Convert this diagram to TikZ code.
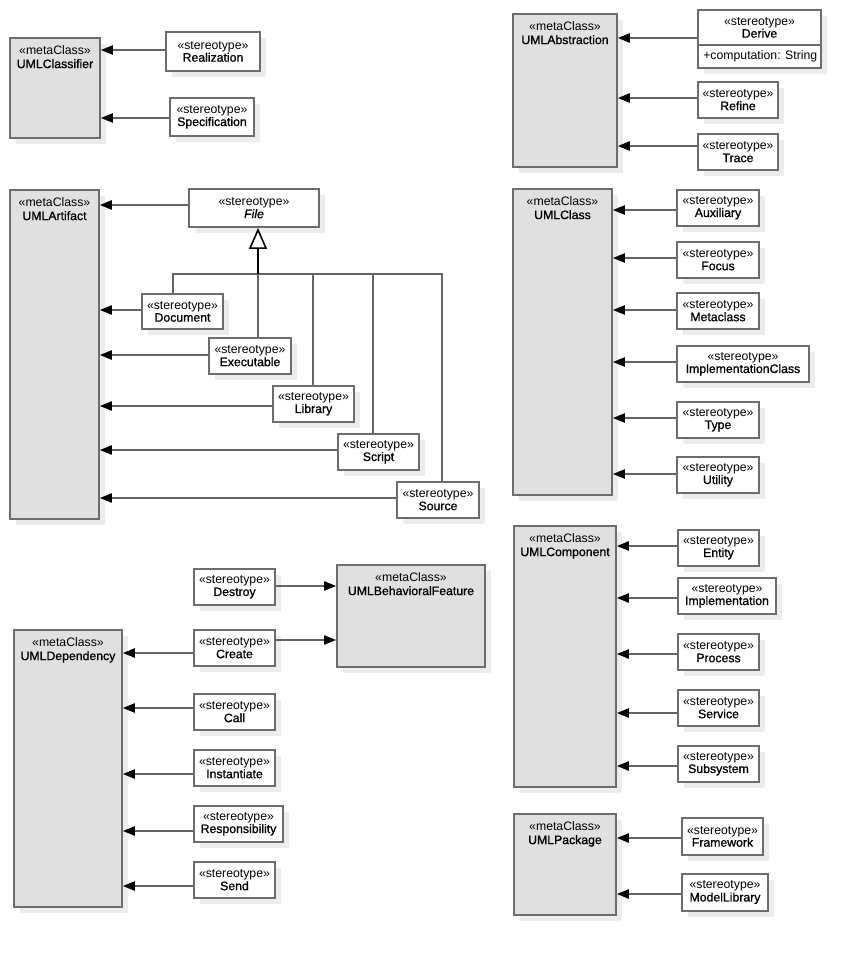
\documentclass[tikz,border=0pt]{standalone}
\usepackage{fontspec}
\setmainfont{Liberation Sans}
\newfontfamily\namefont[FakeBold=1]{Liberation Sans}
\usetikzlibrary{arrows.meta,fit,shadows}

\definecolor{metafill}{RGB}{224,224,224}
\definecolor{boxline}{RGB}{108,108,108}
\definecolor{wire}{RGB}{100,100,100}
\definecolor{shade}{RGB}{236,236,236}

% metaclass box: name, x1, y1, x2, y2, class name
\newcommand\metaclass[6]{%
  \node[metabox, fit={(#2,#3) (#4,#5)}] (#1) {};
  \node[anchor=north, align=center, font=\fontsize{9.2}{10}\selectfont]
    (#1-label) at ([yshift=-6.4pt]#1.north)
    {«metaClass»\\{\namefont #6}};}
% stereotype box: name, x1, y1, x2, y2, stereotype name
\newcommand\stereotype[6]{%
  \node[stbox, fit={(#2,#3) (#4,#5)}] (#1) {};
  \node[align=center] (#1-label) at (#1.center) {«stereotype»\\{\namefont #6}};}
% extension arrow pointing left: from, to, y
\newcommand\extleft[3]{\draw[dep] (#1.west |- 0,#3) -- (#2.east |- 0,#3);}
% extension arrow pointing right: from, to, y
\newcommand\extright[3]{\draw[dep] (#1.east |- 0,#3) -- (#2.west |- 0,#3);}

\begin{document}
\begin{tikzpicture}[x=0.75pt,y=-0.75pt,
  every node/.style={font=\fontsize{9.2}{9.4}\selectfont, inner sep=0pt},
  umlbox/.style={draw=boxline, line width=1.4pt,
    drop shadow={shadow xshift=4.5pt, shadow yshift=-4.5pt, fill=shade, opacity=1}},
  metabox/.style={umlbox, fill=metafill},
  stbox/.style={umlbox, fill=white},
  dep/.style={draw=wire, line width=1.2pt,
    -{Triangle[length=9pt, width=7pt, color=black]}},
  gen/.style={draw=wire, line width=1.2pt},
  genhead/.style={draw=black, line width=1.2pt,
    -{Triangle[open, length=15.75pt, width=13.5pt, fill=white]}}
]
\fill[white] (0,0) rectangle (850,955);
\useasboundingbox (0,0) rectangle (850,955);

% ---- metaclasses ----
\metaclass{classifier}{10}{38}{100}{138}{UMLClassifier}
\metaclass{abstraction}{513}{14}{617}{167}{UMLAbstraction}
\metaclass{artifact}{10}{190}{99}{519}{UMLArtifact}
\metaclass{umlclass}{513}{189}{612}{495}{UMLClass}
\metaclass{component}{514}{526}{616}{787}{UMLComponent}
\metaclass{behav}{337}{565}{485}{667}{UMLBehavioralFeature}
\metaclass{dependency}{14}{630}{122}{907}{UMLDependency}
\metaclass{package}{514}{814}{616}{915}{UMLPackage}

% ---- UMLClassifier ----
\stereotype{realization}{166}{32}{260}{71}{Realization}
\stereotype{specification}{170}{98}{254}{136}{Specification}
\extleft{realization}{classifier}{50}
\extleft{specification}{classifier}{118}

% ---- UMLAbstraction ----
\node[umlbox, fill=white, fit={(698,10) (821,68)}] (derive) {};
\node[align=center] (derive-name) at (759.5,27.5) {«stereotype»\\{\namefont Derive}};
\draw[draw=boxline, line width=1.4pt] (derive.west |- 0,45) -- (derive.east |- 0,45);
\node[anchor=west] (derive-attr) at (703,56) {+computation: String};
\stereotype{refine}{698}{82}{778}{118}{Refine}
\stereotype{trace}{698}{134}{778}{170}{Trace}
\extleft{derive}{abstraction}{38}
\extleft{refine}{abstraction}{98}
\extleft{trace}{abstraction}{146}

% ---- UMLArtifact ----
\node[stbox, fit={(189,189) (319,227)}] (file) {};
\node[align=center] (file-label) at (file.center) {«stereotype»\\{\namefont\itshape File}};
\stereotype{document}{142}{294}{223}{329}{Document}
\stereotype{executable}{209}{338}{291}{374}{Executable}
\stereotype{library}{273}{386}{354}{422}{Library}
\stereotype{script}{338}{434}{419}{470}{Script}
\stereotype{source}{397}{482}{479}{518}{Source}
\extleft{file}{artifact}{205}
\extleft{document}{artifact}{310}
\extleft{executable}{artifact}{355}
\extleft{library}{artifact}{406}
\extleft{script}{artifact}{450}
\extleft{source}{artifact}{498}
% generalizations into File
\draw[gen] (document.north -| 173,0) -- (173,274) -- (258,274);
\draw[gen] (library.north -| 313,0) -- (313,274) -- (258,274);
\draw[gen] (script.north -| 373,0) -- (373,274) -- (258,274);
\draw[gen] (source.north -| 442,0) -- (442,274) -- (258,274);
\draw[gen] (executable.north -| 258,0) -- (258,274);
\draw[genhead] (258,274) -- (file.south -| 258,0);

% ---- UMLClass ----
\stereotype{auxiliary}{677}{190}{759}{226}{Auxiliary}
\stereotype{focus}{677}{242}{759}{278}{Focus}
\stereotype{metaclassst}{677}{293}{759}{329}{Metaclass}
\stereotype{implclass}{677}{346}{809}{382}{ImplementationClass}
\stereotype{type}{677}{402}{759}{438}{Type}
\stereotype{utility}{677}{457}{759}{493}{Utility}
\extleft{auxiliary}{umlclass}{210}
\extleft{focus}{umlclass}{258}
\extleft{metaclassst}{umlclass}{310}
\extleft{implclass}{umlclass}{362}
\extleft{type}{umlclass}{418}
\extleft{utility}{umlclass}{474}

% ---- UMLComponent ----
\stereotype{entity}{678}{530}{759}{566}{Entity}
\stereotype{implementation}{678}{578}{776}{614}{Implementation}
\stereotype{process}{678}{634}{759}{670}{Process}
\stereotype{service}{678}{690}{759}{726}{Service}
\stereotype{subsystem}{678}{746}{759}{782}{Subsystem}
\extleft{entity}{component}{546}
\extleft{implementation}{component}{598}
\extleft{process}{component}{654}
\extleft{service}{component}{713}
\extleft{subsystem}{component}{766}

% ---- UMLPackage ----
\stereotype{framework}{682}{818}{763}{855}{Framework}
\stereotype{modellibrary}{682}{874}{768}{911}{ModelLibrary}
\extleft{framework}{package}{838}
\extleft{modellibrary}{package}{894}

% ---- UMLBehavioralFeature / UMLDependency ----
\stereotype{destroy}{194}{569}{275}{605}{Destroy}
\stereotype{create}{194}{630}{275}{666}{Create}
\stereotype{call}{194}{694}{275}{730}{Call}
\stereotype{instantiate}{194}{750}{275}{786}{Instantiate}
\stereotype{responsibility}{194}{806}{283}{842}{Responsibility}
\stereotype{send}{194}{862}{275}{898}{Send}
\extright{destroy}{behav}{586}
\extright{create}{behav}{640}
\extleft{create}{dependency}{653}
\extleft{call}{dependency}{708}
\extleft{instantiate}{dependency}{774}
\extleft{responsibility}{dependency}{831}
\extleft{send}{dependency}{886}
\end{tikzpicture}
\end{document}
